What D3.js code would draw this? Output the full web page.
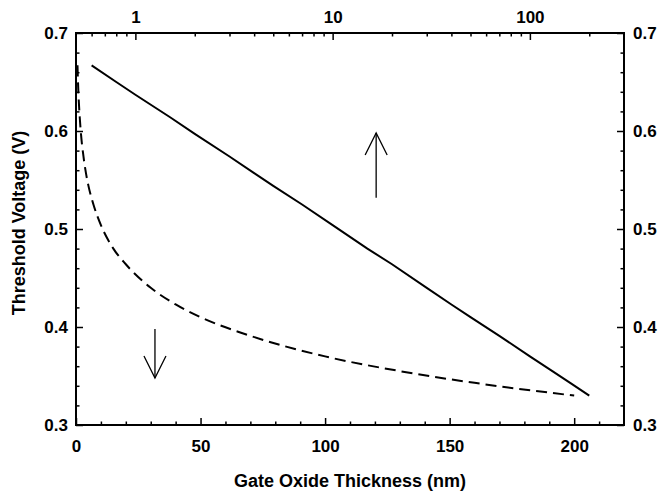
<!DOCTYPE html>
<html>

<head>
  <meta charset="utf-8">
  <title>Threshold Voltage vs Gate Oxide Thickness</title>
  <style type="text/css">
    body {
      margin: 0;
      background: #fff;
    }

    svg {
      display: block;
      font-family: Arial, "Liberation Sans", sans-serif;
      font-weight: bold;
    }

    .axis text {
      font-size: 17px;
      font-weight: bold;
      fill: #000;
    }

    .axis line {
      stroke: #000;
      stroke-width: 1.5px;
    }

    .axis path {
      display: none;
    }
  </style>
  <script type="text/javascript" src="https://cdn.jsdelivr.net/npm/d3@7/dist/d3.min.js"></script>
</head>

<body>
  <script>
    // gate oxide thickness (nm) and threshold voltage (V)
    var thickness = [0.6, 0.8, 1, 1.5, 2, 3, 4, 5, 7, 10, 15, 20, 30, 40, 50, 70, 100, 130, 160, 200];
    var voltage = [0.667, 0.650, 0.637, 0.614, 0.597, 0.574, 0.557, 0.544, 0.525, 0.504,
      0.480, 0.464, 0.440, 0.423, 0.410, 0.391, 0.370, 0.355, 0.343, 0.330];

    var xTicks = [0, 50, 100, 150, 200];
    var xMinor = [10, 20, 30, 40, 60, 70, 80, 90, 110, 120, 130, 140, 160, 170, 180, 190, 210];
    var logTicks = [1, 10, 100];
    var logMinor = [0.6, 0.7, 0.8, 0.9, 2, 3, 4, 5, 6, 7, 8, 9, 20, 30, 40, 50, 60, 70, 80, 90, 200];
    var yTicks = [0.3, 0.4, 0.5, 0.6, 0.7];
    var yMinor = [0.32, 0.34, 0.36, 0.38, 0.42, 0.44, 0.46, 0.48, 0.52, 0.54, 0.56, 0.58,
      0.62, 0.64, 0.66, 0.68];

    var data = thickness.map((t, i) => ({ t: t, v: voltage[i] }));

    var width = 660, height = 493;
    var margin = { top: 33, right: 36, bottom: 68, left: 76 };
    var w = width - margin.left - margin.right;
    var h = height - margin.top - margin.bottom;

    var svg = d3.select('body').append('svg')
      .attr('width', width)
      .attr('height', height);

    var g = svg.append('g')
      .attr('transform', `translate(${margin.left},${margin.top})`);

    var x = d3.scaleLinear().domain([0, 220]).range([0, w]);
    var xLog = d3.scaleLog().domain([0.5, 300]).range([0, w]);
    var y = d3.scaleLinear().domain([0.3, 0.7]).range([h, 0]);

    // 下軸 (linear)
    g.append('g').attr('class', 'axis')
      .attr('transform', `translate(0,${h})`)
      .call(d3.axisBottom(x).tickValues(xTicks).tickSize(-7).tickSizeOuter(0).tickPadding(15));
    g.append('g').attr('class', 'axis')
      .attr('transform', `translate(0,${h})`)
      .call(d3.axisBottom(x).tickValues(xMinor).tickSize(-3.5).tickSizeOuter(0).tickFormat(''));

    // 上軸 (log)
    g.append('g').attr('class', 'axis')
      .call(d3.axisTop(xLog).tickValues(logTicks).tickSize(-7).tickSizeOuter(0).tickPadding(10)
        .tickFormat(d3.format('d')));
    g.append('g').attr('class', 'axis')
      .call(d3.axisTop(xLog).tickValues(logMinor).tickSize(-3.5).tickSizeOuter(0).tickFormat(''));

    // 左右軸
    g.append('g').attr('class', 'axis')
      .call(d3.axisLeft(y).tickValues(yTicks).tickSize(-7).tickSizeOuter(0).tickPadding(8)
        .tickFormat(d3.format('.1f')));
    g.append('g').attr('class', 'axis')
      .call(d3.axisLeft(y).tickValues(yMinor).tickSize(-3.5).tickSizeOuter(0).tickFormat(''));
    g.append('g').attr('class', 'axis')
      .attr('transform', `translate(${w},0)`)
      .call(d3.axisRight(y).tickValues(yTicks).tickSize(-7).tickSizeOuter(0).tickPadding(9)
        .tickFormat(d3.format('.1f')));
    g.append('g').attr('class', 'axis')
      .attr('transform', `translate(${w},0)`)
      .call(d3.axisRight(y).tickValues(yMinor).tickSize(-3.5).tickSizeOuter(0).tickFormat(''));

    // 外框
    g.append('rect')
      .attr('width', w)
      .attr('height', h)
      .attr('fill', 'none')
      .attr('stroke', '#000')
      .attr('stroke-width', 2);

    // 實線: log 軸
    g.append('path')
      .datum(data)
      .attr('fill', 'none')
      .attr('stroke', '#000')
      .attr('stroke-width', 2)
      .attr('d', d3.line().x(d => xLog(d.t)).y(d => y(d.v)));

    // 虛線: linear 軸
    g.append('path')
      .datum(data)
      .attr('fill', 'none')
      .attr('stroke', '#000')
      .attr('stroke-width', 2)
      .attr('stroke-dasharray', '11,6')
      .attr('d', d3.line().curve(d3.curveMonotoneX).x(d => x(d.t)).y(d => y(d.v)));

    // 箭頭
    function arrow(cx, y0, y1) {
      var dir = y1 < y0 ? 1 : -1;
      var a = g.append('g')
        .attr('fill', 'none')
        .attr('stroke', '#000')
        .attr('stroke-width', 1.3);
      a.append('line')
        .attr('x1', cx).attr('y1', y0)
        .attr('x2', cx).attr('y2', y1);
      a.append('path')
        .attr('d', `M${cx - 11},${y1 + dir * 22}L${cx},${y1}L${cx + 11},${y1 + dir * 22}`);
    }
    arrow(x(120.5), y(0.532), y(0.598));
    arrow(x(31.7), y(0.398), y(0.348));

    // 軸標題
    svg.append('text')
      .attr('x', margin.left + w / 2)
      .attr('y', 487)
      .attr('text-anchor', 'middle')
      .attr('font-size', 18)
      .text('Gate Oxide Thickness (nm)');

    svg.append('text')
      .attr('transform', `translate(25,${margin.top + h / 2 - 6}) rotate(-90)`)
      .attr('text-anchor', 'middle')
      .attr('font-size', 18)
      .text('Threshold Voltage (V)');
  </script>
</body>

</html>
